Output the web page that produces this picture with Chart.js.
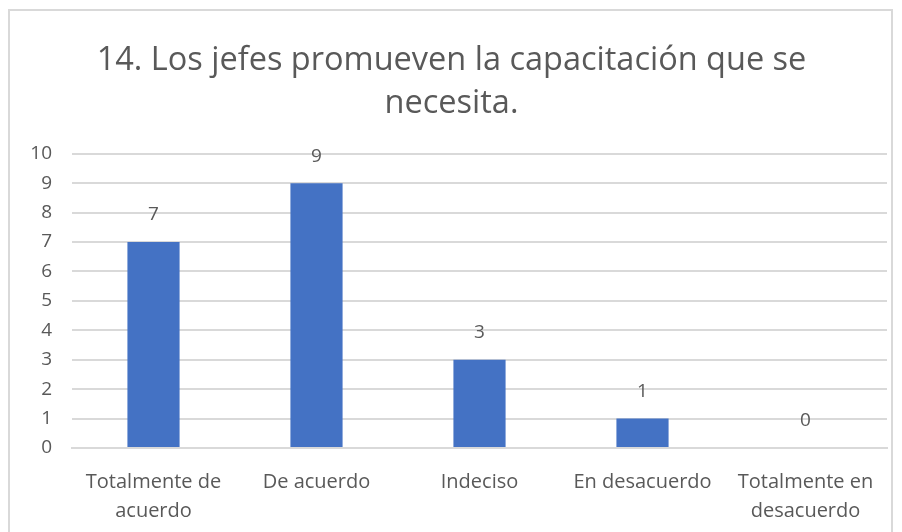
<!DOCTYPE html>
<html>
<head>
<meta charset="utf-8">
<script src="https://cdn.jsdelivr.net/npm/chart.js@4"></script>
<style>
  html, body { margin: 0; padding: 0; background: #fff; }
  #wrap { position: relative; width: 902px; height: 532px; overflow: hidden; }
  #frame { position: absolute; left: 8px; top: 9px; width: 885px; height: 540px; border: 2px solid #d9d9d9; box-sizing: border-box; }
  canvas { position: absolute; left: 0; top: 0; }
</style>
</head>
<body>
<div id="wrap">
  <div id="frame"></div>
  <canvas id="chart" width="902" height="532"></canvas>
</div>
<script>
// Data
const categories = [['Totalmente de', 'acuerdo'], 'De acuerdo', 'Indeciso', 'En desacuerdo', ['Totalmente en', 'desacuerdo']];
const values = [7, 9, 3, 1, 0];
const titleLines = ['14. Los jefes promueven la capacitación que se', 'necesita.'];

const textColor = '#595959';
const fontFamily = "'Open Sans', 'Noto Sans', sans-serif";

// Value labels above each bar
const valueLabels = {
  id: 'valueLabels',
  afterDatasetsDraw(chart) {
    const ctx = chart.ctx;
    const meta = chart.getDatasetMeta(0);
    ctx.save();
    ctx.fillStyle = textColor;
    ctx.font = '19px ' + fontFamily;
    ctx.textAlign = 'center';
    ctx.textBaseline = 'middle';
    meta.data.forEach((bar, i) => {
      ctx.fillText(values[i], bar.x, bar.y - 27);
    });
    ctx.restore();
  }
};

new Chart(document.getElementById('chart'), {
  type: 'bar',
  data: {
    labels: categories,
    datasets: [{
      data: values,
      backgroundColor: '#4472c4',
      barPercentage: 0.64,
      categoryPercentage: 0.5
    }]
  },
  options: {
    responsive: false,
    animation: false,
    layout: { padding: { left: 16, right: 15, top: 0, bottom: 0 } },
    plugins: {
      legend: { display: false },
      tooltip: { enabled: false },
      title: {
        display: true,
        text: titleLines,
        color: textColor,
        font: { family: fontFamily, size: 32.5, weight: 'normal', lineHeight: 1.32 },
        padding: { top: 39, bottom: 29 }
      }
    },
    scales: {
      x: {
        grid: { display: false },
        border: { color: '#d9d9d9', width: 2 },
        ticks: { color: textColor, font: { family: fontFamily, size: 20, lineHeight: 1.45 }, maxRotation: 0, autoSkip: false, padding: 12 },
        afterFit(axis) { axis.height = 84; }
      },
      y: {
        min: 0,
        max: 10,
        ticks: { stepSize: 1, color: textColor, font: { family: fontFamily, size: 19 }, padding: 20 },
        grid: { color: '#d9d9d9', lineWidth: 2, drawTicks: false },
        border: { display: false },
        afterFit(axis) { axis.width = 56; }
      }
    }
  },
  plugins: [valueLabels]
});
</script>
</body>
</html>
